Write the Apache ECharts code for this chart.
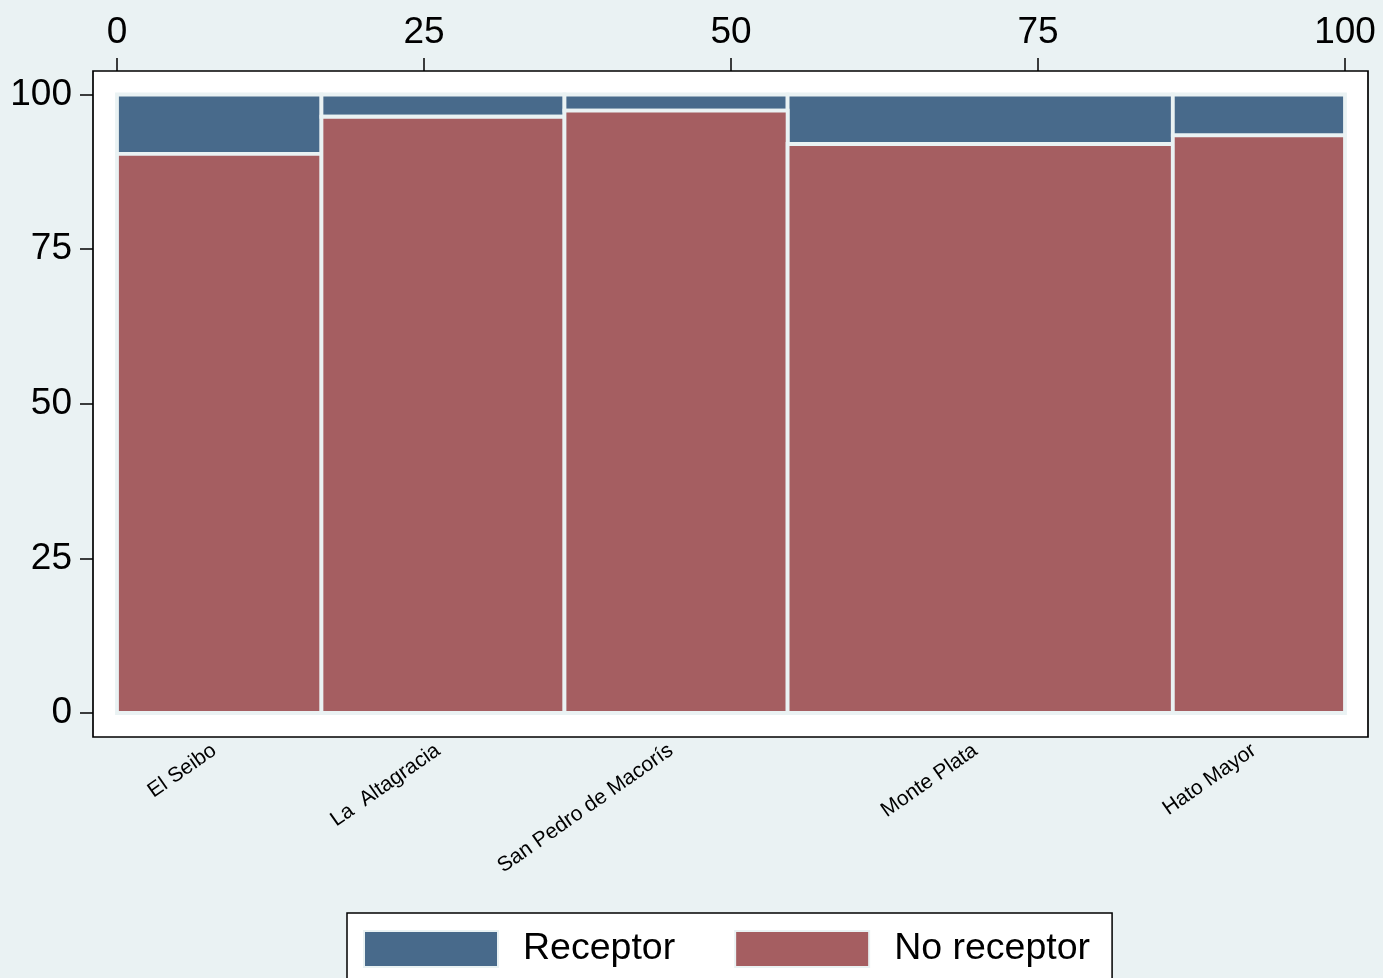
<!DOCTYPE html>
<html>
<head>
<meta charset="utf-8">
<script src="https://cdn.jsdelivr.net/npm/echarts@6/dist/echarts.min.js"></script>
<style>html,body{margin:0;padding:0;background:#eaf2f3;}#c{width:1383px;height:978px;}</style>
</head>
<body>
<div id="c"></div>
<script>
// Data (spine plot: column width = share of total, height = % within column)
const categories = ['El Seibo', 'La  Altagracia', 'San Pedro de Macorís', 'Monte Plata', 'Hato Mayor'];
const columnShare = [16.65, 19.79, 18.17, 31.37, 14.02];
const noReceptor = [90.4, 96.4, 97.4, 92.0, 93.4];
const receptor = [9.6, 3.6, 2.6, 8.0, 6.6];
const xTicks = [0, 25, 50, 75, 100];
const yTicks = [0, 25, 50, 75, 100];
const seriesNames = ['Receptor', 'No receptor'];

const FONT = '"Liberation Sans", Arial, sans-serif';
const BG = '#eaf2f3';
const BLUE = '#486a8b';
const RED = '#a55e61';

// build cumulative column edges
const starts = [], ends = [], centers = [];
let acc = 0;
columnShare.forEach(w => { starts.push(acc); acc += w; ends.push(acc); centers.push(starts[starts.length-1] + w / 2); });

const dataNo = categories.map((c, i) => [starts[i], ends[i], 0, noReceptor[i]]);
const dataRec = categories.map((c, i) => [starts[i], ends[i], noReceptor[i], noReceptor[i] + receptor[i]]);

function renderItem(params, api) {
  const a = api.coord([api.value(0), api.value(3)]);
  const b = api.coord([api.value(1), api.value(2)]);
  return {
    type: 'rect',
    shape: { x: a[0], y: a[1], width: b[0] - a[0], height: b[1] - a[1] },
    style: { fill: api.visual('color'), stroke: BG, lineWidth: 3.8 }
  };
}

// plot region padding around the 0..100 data range (Stata-style inner margin)
const X_MIN = -1.954, X_MAX = 101.873;
const Y_MIN = -3.880, Y_MAX = 103.799;

const chart = echarts.init(document.getElementById('c'), null, { renderer: 'canvas' });
chart.setOption({
  backgroundColor: BG,
  animation: false,
  textStyle: { fontFamily: FONT },
  grid: { left: 93, right: 15, top: 71, bottom: 241, containLabel: false,
    show: true, backgroundColor: '#ffffff', borderColor: '#000000', borderWidth: 1.7 },
  xAxis: [{
    type: 'value', position: 'top', min: X_MIN, max: X_MAX,
    axisLine: { show: false, onZero: false },
    axisTick: { show: true, length: 13, customValues: xTicks, lineStyle: { color: '#000', width: 1.5 } },
    splitLine: { show: false },
    axisLabel: { fontSize: 37, color: '#000', margin: 20, fontFamily: FONT,
      customValues: xTicks, formatter: v => String(v) }
  }, {
    type: 'value', position: 'bottom', min: X_MIN, max: X_MAX,
    axisLine: { show: false, onZero: false }, axisTick: { show: false }, splitLine: { show: false },
    axisLabel: {
      customValues: centers, rotate: 35, fontSize: 21, color: '#000', margin: 8, fontFamily: FONT,
      hideOverlap: false, padding: [0, 6, 0, 0],
      formatter: function (v) {
        let best = 0, bd = Infinity;
        centers.forEach((c, i) => { const d = Math.abs(c - v); if (d < bd) { bd = d; best = i; } });
        return categories[best];
      }
    }
  }],
  yAxis: {
    type: 'value', min: Y_MIN, max: Y_MAX,
    axisLine: { show: false, onZero: false },
    axisTick: { show: true, length: 13, customValues: yTicks, lineStyle: { color: '#000', width: 1.5 } },
    splitLine: { show: false },
    axisLabel: { fontSize: 37, color: '#000', margin: 21, fontFamily: FONT, padding: [6, 0, 0, 0],
      customValues: yTicks, formatter: v => String(v) }
  },
  legend: {
    left: 347, top: 913, orient: 'horizontal',
    padding: [17, 22, 17, 16],
    backgroundColor: '#ffffff', borderColor: '#000000', borderWidth: 1.5, borderRadius: 0,
    itemWidth: 134, itemHeight: 36, itemGap: 59, icon: 'rect',
    itemStyle: { borderColor: BG, borderWidth: 2 },
    textStyle: { fontSize: 37.5, color: '#000', fontFamily: FONT, padding: [5, 0, 0, 20] },
    data: seriesNames
  },
  series: [{
    name: seriesNames[0], type: 'custom', renderItem: renderItem,
    xAxisIndex: 0, yAxisIndex: 0, clip: false,
    itemStyle: { color: BLUE },
    encode: { x: [0, 1], y: [2, 3] },
    data: dataRec
  }, {
    name: seriesNames[1], type: 'custom', renderItem: renderItem,
    xAxisIndex: 0, yAxisIndex: 0, clip: false,
    itemStyle: { color: RED },
    encode: { x: [0, 1], y: [2, 3] },
    data: dataNo
  }]
});
</script>
</body>
</html>
